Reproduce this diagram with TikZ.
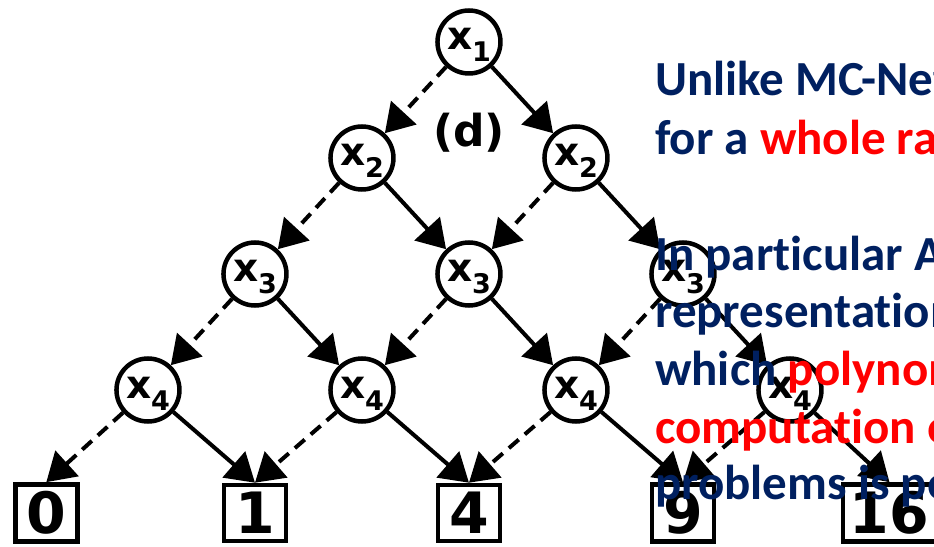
\documentclass[tikz,border=0pt]{standalone}
\usepackage{fontspec}
\setmainfont{Carlito}[Ligatures=NoCommon]
\newfontfamily\dejavu{DejaVu Sans}
\usetikzlibrary{arrows.meta}
\definecolor{navy}{RGB}{0,32,96}
% variable label: bold x with a lowered index
\newcommand{\xv}[1]{{\dejavu\bfseries\fontsize{39}{39}\selectfont x\raisebox{-12pt}{\fontsize{27}{27}\selectfont #1}}}

\begin{document}
\begin{tikzpicture}[x=107pt,y=116pt,>={Triangle[length=28pt,width=34pt]},
      var/.style={circle,draw,line width=4.5pt,minimum size=63pt,inner sep=0pt,text height=20pt,text depth=4pt},
      leaf/.style={draw,line width=4.5pt,minimum width=62pt,minimum height=56pt,inner sep=7pt,
        font=\dejavu\bfseries\fontsize{57}{57}\selectfont},
      hi/.style={->,line width=4pt},
      lo/.style={->,line width=4pt,dash pattern=on 13pt off 8pt},
      txt/.style={anchor=base west,inner sep=0pt,text=navy,font=\bfseries\fontsize{49}{58}\selectfont}]
      \useasboundingbox (-4.383,0.362) rectangle (4.346,-4.353);
      % variables, one row per level
      \node (x1) at (0,0) [var]{\xv{1}};
      \node (x2l) at (-1,-1) [var]{\xv{2}};
      \node (x2r) at (1,-1) [var]{\xv{2}};
      \node (x3l) at (-2,-2) [var]{\xv{3}};
      \node (x3m) at (0,-2) [var]{\xv{3}};
      \node (x3r) at (2,-2) [var]{\xv{3}};
      \node (x4a) at (-3,-3) [var]{\xv{4}};
      \node (x4b) at (-1,-3) [var]{\xv{4}};
      \node (x4c) at (1,-3) [var]{\xv{4}};
      \node (x4d) at (3,-3) [var]{\xv{4}};
      % terminals
      \node (t0) at (-3.95,-4.06) [leaf]{0};
      \node (t1) at (-2,-4.06) [leaf]{1};
      \node (t4) at (0,-4.06) [leaf]{4};
      \node (t9) at (2,-4.06) [leaf]{9};
      \node (t16) at (3.93,-4.06) [leaf]{16};
      \node (tag) at (0,-0.784) {\dejavu\bfseries\fontsize{44}{44}\selectfont (d)};
      % dashed = 0-edge, solid = 1-edge
      \draw [lo] (x1) -- (x2l);
      \draw [hi] (x1) -- (x2r);
      \draw [lo] (x2l) -- (x3l);
      \draw [hi] (x2l) -- (x3m);
      \draw [lo] (x2r) -- (x3m);
      \draw [hi] (x2r) -- (x3r);
      \draw [lo] (x3l) -- (x4a);
      \draw [hi] (x3l) -- (x4b);
      \draw [lo] (x3m) -- (x4b);
      \draw [hi] (x3m) -- (x4c);
      \draw [lo] (x3r) -- (x4c);
      \draw [hi] (x3r) -- (x4d);
      \draw [lo] (x4a) -- (t0.north);
      \draw [hi] (x4a) -- (t1.north);
      \draw [lo] (x4b) -- (t1.north);
      \draw [hi] (x4b) -- (t4.north);
      \draw [lo] (x4c) -- (t4.north);
      \draw [hi] (x4c) -- (t9.north);
      \draw [lo] (x4d) -- (t9.north);
      \draw [hi] (x4d) -- (t16.north);
      % text on top
      \node (l1) at (1.738,-0.457) [txt]{Unlike MC-Net};
      \node (l2) at (1.738,-0.974) [txt]{for a \textcolor{red}{whole ra}};
      \node (l3) at (1.738,-1.966) [txt]{In particular A};
      \node (l4) at (1.738,-2.457) [txt]{representation};
      \node (l5) at (1.738,-2.957) [txt]{which \textcolor{red}{polynom}};
      \node (l6) at (1.738,-3.457) [txt]{\textcolor{red}{computation o}};
      \node (l7) at (1.738,-3.948) [txt]{problems is po};
\end{tikzpicture}
\end{document}
